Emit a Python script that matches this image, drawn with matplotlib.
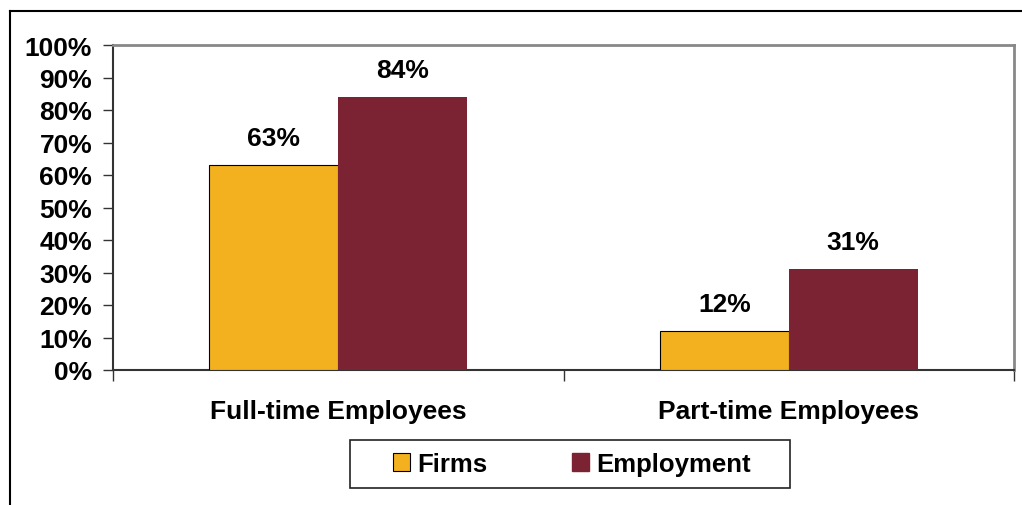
import matplotlib
matplotlib.use("Agg")
import matplotlib.pyplot as plt
import numpy as np
from matplotlib.patches import Patch, Rectangle
from matplotlib.lines import Line2D

categories = ["Full-time Employees", "Part-time Employees"]
series_names = ["Firms", "Employment"]
firms = [63, 12]
employment = [84, 31]
yticks = [0, 10, 20, 30, 40, 50, 60, 70, 80, 90, 100]
ytick_labels = [f"{v}%" for v in yticks]

YELLOW = "#F3B120"
MAROON = "#7B2332"
FS = 19

plt.rcParams["font.family"] = ["Liberation Sans", "DejaVu Sans"]
plt.rcParams["font.weight"] = "bold"

W, H = 1022, 506
fig = plt.figure(figsize=(W / 100, H / 100), dpi=100)

# outer chart frame (left and top edges visible)
fig.add_artist(Line2D([10 / W, 10 / W], [0, 1 - 12 / H], color="black", lw=1.5))
fig.add_artist(Line2D([10 / W, 1], [1 - 12 / H, 1 - 12 / H], color="black", lw=1.5))

left, right, top, bottom = 113, 1014, 46, 371
ax = fig.add_axes([left / W, 1 - bottom / H, (right - left) / W, (bottom - top) / H])

x = np.arange(len(categories))
bw = 0.286
ax.bar(x - bw / 2, firms, bw, color=YELLOW, edgecolor="black", linewidth=0.8, zorder=3)
ax.bar(x + bw / 2, employment, bw, color=MAROON, edgecolor=MAROON, linewidth=0.0, zorder=3)

for xi, v in zip(x - bw / 2, firms):
    ax.annotate(f"{v}%", (xi, v), xytext=(0, 11), textcoords="offset points",
                ha="center", va="bottom", fontsize=FS, fontweight="bold")
for xi, v in zip(x + bw / 2, employment):
    ax.annotate(f"{v}%", (xi, v), xytext=(0, 11), textcoords="offset points",
                ha="center", va="bottom", fontsize=FS, fontweight="bold")

ax.set_xlim(-0.5, len(categories) - 0.5)
ax.set_ylim(0, 100)
ax.set_yticks(yticks)
ax.set_yticklabels(ytick_labels, fontsize=FS, fontweight="bold")
ax.tick_params(axis="y", direction="out", length=7, width=1, pad=8, color="#333333")

# category labels centred, separator ticks at the boundaries
ax.set_xticks([-0.5, 0.5, 1.5])
ax.set_xticklabels([])
ax.tick_params(axis="x", direction="out", length=8, width=1, color="#333333")
ax.set_xticks(x, minor=True)
ax.set_xticklabels(categories, minor=True, fontsize=FS, fontweight="bold")
ax.tick_params(axis="x", which="minor", length=0, pad=21)

ax.spines["left"].set_color("#333333")
ax.spines["bottom"].set_color("#333333")
ax.spines["left"].set_linewidth(1.5)
ax.spines["bottom"].set_linewidth(1.5)
ax.spines["top"].set_color("#888888")
ax.spines["right"].set_color("#888888")
ax.spines["top"].set_linewidth(2)
ax.spines["right"].set_linewidth(2)

# legend box
fig.add_artist(Rectangle((350 / W, 1 - 489 / H), 440 / W, 48 / H,
                         transform=fig.transFigure, facecolor="white",
                         edgecolor="#222222", linewidth=1.2))
handles = [Patch(facecolor=YELLOW, edgecolor="black", linewidth=0.8),
           Patch(facecolor=MAROON, edgecolor=MAROON)]
leg = fig.legend(handles, series_names, loc="center",
                 bbox_to_anchor=(572 / W, 1 - 465 / H), ncol=2, frameon=False,
                 prop={"weight": "bold", "size": 18.5},
                 handlelength=0.66, handleheight=0.66, handletextpad=0.27,
                 columnspacing=3.3, borderpad=0, borderaxespad=0)

fig.savefig("out.png", dpi=100)
